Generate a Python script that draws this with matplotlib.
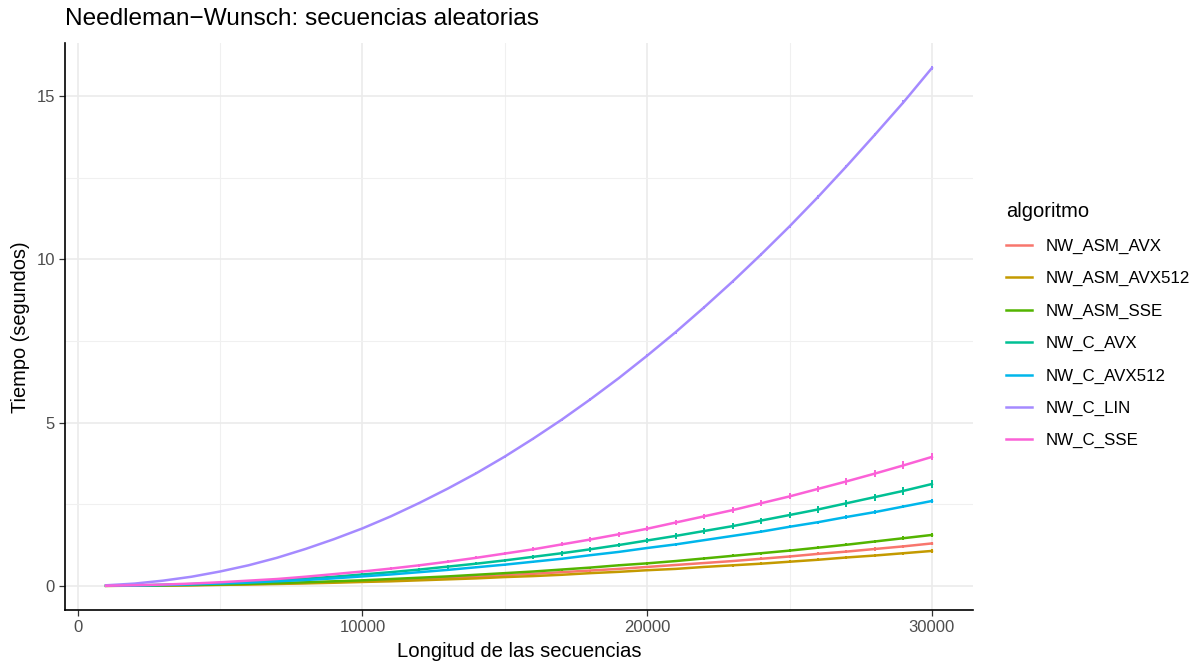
import matplotlib.pyplot as plt
from matplotlib.lines import Line2D
from matplotlib.ticker import MultipleLocator

plt.rcParams['font.family'] = ['Liberation Sans', 'DejaVu Sans']

# Sequence length (1000 .. 30000)
longitud = [1000 * k for k in range(1, 31)]

algoritmos = ['NW_ASM_AVX', 'NW_ASM_AVX512', 'NW_ASM_SSE', 'NW_C_AVX',
              'NW_C_AVX512', 'NW_C_LIN', 'NW_C_SSE']
colores = ['#F8766D', '#C49A00', '#53B400', '#00C094', '#00B6EB', '#A58AFF', '#FB61D7']

# Mean time (seconds) per algorithm
t_asm_avx = [0.001, 0.006, 0.013, 0.023, 0.036, 0.052, 0.071, 0.092, 0.12, 0.14,
             0.17, 0.21, 0.24, 0.28, 0.33, 0.37, 0.42, 0.47, 0.52, 0.58,
             0.64, 0.70, 0.76, 0.83, 0.90, 0.98, 1.05, 1.13, 1.21, 1.30]
t_asm_avx512 = [0.001, 0.005, 0.011, 0.019, 0.030, 0.043, 0.058, 0.076, 0.096, 0.12,
                0.14, 0.17, 0.20, 0.23, 0.27, 0.30, 0.34, 0.39, 0.43, 0.48,
                0.52, 0.58, 0.63, 0.68, 0.74, 0.80, 0.87, 0.93, 1.00, 1.07]
t_asm_sse = [0.002, 0.007, 0.016, 0.028, 0.043, 0.062, 0.085, 0.11, 0.14, 0.17,
             0.21, 0.25, 0.29, 0.34, 0.39, 0.44, 0.50, 0.56, 0.63, 0.69,
             0.76, 0.84, 0.92, 1.00, 1.08, 1.17, 1.26, 1.36, 1.46, 1.56]
t_c_avx = [0.003, 0.014, 0.031, 0.055, 0.087, 0.125, 0.17, 0.22, 0.28, 0.35,
           0.42, 0.50, 0.59, 0.68, 0.78, 0.89, 1.00, 1.12, 1.25, 1.39,
           1.53, 1.68, 1.83, 2.00, 2.17, 2.34, 2.53, 2.72, 2.91, 3.12]
t_c_avx512 = [0.003, 0.012, 0.026, 0.046, 0.072, 0.10, 0.14, 0.18, 0.23, 0.29,
              0.35, 0.42, 0.49, 0.57, 0.65, 0.74, 0.83, 0.94, 1.04, 1.16,
              1.27, 1.40, 1.53, 1.66, 1.81, 1.95, 2.11, 2.26, 2.43, 2.60]
t_c_lin = [0.018, 0.07, 0.16, 0.28, 0.44, 0.63, 0.86, 1.13, 1.43, 1.76,
           2.13, 2.54, 2.98, 3.45, 3.96, 4.51, 5.09, 5.71, 6.36, 7.05,
           7.77, 8.53, 9.32, 10.15, 11.01, 11.91, 12.85, 13.82, 14.81, 15.86]
t_c_sse = [0.004, 0.018, 0.04, 0.07, 0.11, 0.16, 0.21, 0.28, 0.36, 0.44,
           0.53, 0.63, 0.74, 0.86, 0.99, 1.12, 1.27, 1.42, 1.58, 1.75,
           1.94, 2.13, 2.32, 2.53, 2.74, 2.97, 3.20, 3.44, 3.69, 3.95]

# Standard deviation (seconds)
sd_asm_avx = [0.001, 0.002, 0.003, 0.004, 0.005, 0.006, 0.008, 0.010, 0.012, 0.014,
              0.016, 0.018, 0.020, 0.022, 0.024, 0.026, 0.028, 0.030, 0.032, 0.034,
              0.036, 0.038, 0.040, 0.042, 0.044, 0.046, 0.048, 0.050, 0.052, 0.054]
sd_asm_avx512 = [0.001, 0.002, 0.003, 0.004, 0.005, 0.006, 0.007, 0.009, 0.011, 0.013,
                 0.015, 0.017, 0.019, 0.021, 0.023, 0.025, 0.027, 0.029, 0.031, 0.033,
                 0.035, 0.037, 0.039, 0.041, 0.043, 0.045, 0.047, 0.049, 0.051, 0.053]
sd_asm_sse = [0.001, 0.002, 0.003, 0.004, 0.006, 0.008, 0.010, 0.012, 0.014, 0.016,
              0.018, 0.020, 0.022, 0.024, 0.026, 0.028, 0.030, 0.032, 0.034, 0.036,
              0.038, 0.040, 0.042, 0.044, 0.046, 0.048, 0.050, 0.052, 0.054, 0.056]
sd_c_avx = [0.002, 0.004, 0.006, 0.008, 0.012, 0.016, 0.020, 0.024, 0.028, 0.032,
            0.036, 0.040, 0.060, 0.050, 0.056, 0.060, 0.070, 0.068, 0.072, 0.076,
            0.080, 0.084, 0.088, 0.092, 0.096, 0.100, 0.104, 0.108, 0.112, 0.116]
sd_c_avx512 = [0.001, 0.002, 0.003, 0.004, 0.006, 0.008, 0.010, 0.012, 0.014, 0.016,
               0.018, 0.020, 0.022, 0.024, 0.026, 0.028, 0.030, 0.032, 0.034, 0.036,
               0.038, 0.040, 0.042, 0.044, 0.046, 0.048, 0.050, 0.052, 0.054, 0.056]
sd_c_lin = [0.002, 0.004, 0.006, 0.008, 0.010, 0.012, 0.014, 0.016, 0.018, 0.020,
            0.022, 0.024, 0.026, 0.028, 0.030, 0.032, 0.034, 0.036, 0.038, 0.040,
            0.042, 0.044, 0.046, 0.048, 0.050, 0.052, 0.054, 0.056, 0.058, 0.060]
sd_c_sse = [0.002, 0.004, 0.006, 0.008, 0.012, 0.016, 0.020, 0.024, 0.028, 0.032,
            0.036, 0.040, 0.044, 0.048, 0.052, 0.056, 0.060, 0.064, 0.068, 0.072,
            0.076, 0.080, 0.084, 0.088, 0.092, 0.096, 0.100, 0.104, 0.120, 0.110]

tiempos = [t_asm_avx, t_asm_avx512, t_asm_sse, t_c_avx, t_c_avx512, t_c_lin, t_c_sse]
desvios = [sd_asm_avx, sd_asm_avx512, sd_asm_sse, sd_c_avx, sd_c_avx512, sd_c_lin, sd_c_sse]

fig = plt.figure(figsize=(12, 6.64), dpi=100)
ax = fig.add_axes([0.054, 0.081, 0.757, 0.854])

for nombre, t, sd, c in zip(algoritmos, tiempos, desvios, colores):
    ax.errorbar(longitud, t, yerr=sd, color=c, lw=1.8, elinewidth=1.4,
                capsize=0, label=nombre, zorder=3)

# x/y limits with ggplot-style expansion
x_rng = max(longitud) - min(longitud)
ax.set_xlim(min(longitud) - 0.05 * x_rng, max(longitud) + 0.05 * x_rng)
y_max = max(t_c_lin)
ax.set_ylim(-0.047 * y_max, y_max * 1.048)

ax.xaxis.set_major_locator(MultipleLocator(10000))
ax.xaxis.set_minor_locator(MultipleLocator(5000))
ax.yaxis.set_major_locator(MultipleLocator(5))
ax.yaxis.set_minor_locator(MultipleLocator(2.5))
ax.grid(which='major', color='#EBEBEB', lw=1.2, zorder=0)
ax.grid(which='minor', color='#F0F0F0', lw=0.8, zorder=0)
ax.set_axisbelow(True)

for s in ['top', 'right']:
    ax.spines[s].set_visible(False)
for s in ['left', 'bottom']:
    ax.spines[s].set_color('black')
    ax.spines[s].set_linewidth(1.2)

ax.tick_params(which='major', length=4, width=0.9, color='#333333',
               labelsize=12, labelcolor='#4D4D4D', pad=3)
ax.tick_params(which='minor', length=0)

ax.set_xlabel('Longitud de las secuencias', fontsize=14.6, labelpad=5)
ax.set_ylabel('Tiempo (segundos)', fontsize=14.4, labelpad=5)
ax.set_title('Needleman\u2212Wunsch: secuencias aleatorias', fontsize=17.6,
             loc='left', x=0.0, pad=13)

handles = [Line2D([], [], color=c, lw=1.8) for c in colores]
leg = fig.legend(handles, algoritmos, loc='upper left', bbox_to_anchor=(0.826, 0.718),
                 frameon=False, title='algoritmo', fontsize=12.2, title_fontsize=14.5,
                 handlelength=1.48, handletextpad=0.83, labelspacing=1.02,
                 alignment='left')

fig.savefig('out.png', dpi=100)
